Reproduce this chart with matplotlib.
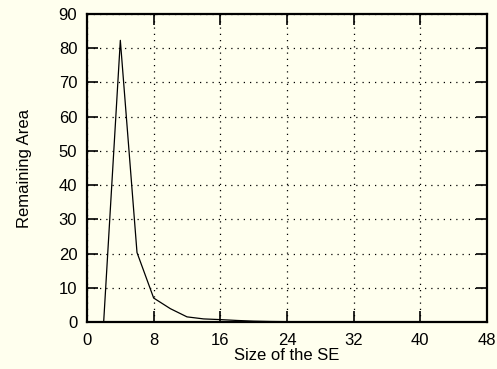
import matplotlib
matplotlib.use("Agg")
import matplotlib.pyplot as plt

# size of the structuring element vs remaining area
se_size = [2, 4, 6, 8, 10, 12, 14, 16, 18, 20, 22, 24, 26, 28, 30]
remaining_area = [0, 82.3, 20.3, 7.0, 3.9, 1.5, 0.9, 0.7, 0.45, 0.25, 0.15, 0.1, 0.05, 0.02, 0]

x_ticks = [0, 8, 16, 24, 32, 40, 48]
y_ticks = [0, 10, 20, 30, 40, 50, 60, 70, 80, 90]

plt.rcParams['font.family'] = ['Liberation Sans', 'DejaVu Sans']
plt.rcParams['font.size'] = 12

bg = '#ffffee'
fig = plt.figure(figsize=(4.97, 3.69), dpi=100, facecolor=bg)
ax = fig.add_axes([87 / 497, 47 / 369, 400 / 497, 308 / 369], facecolor=bg)

ax.plot(se_size, remaining_area, color='black', linewidth=0.9)

ax.set_xlim(0, 48)
ax.set_ylim(0, 90)
ax.set_xticks(x_ticks)
ax.set_yticks(y_ticks)
ax.grid(True, color='black', linestyle=(0, (1, 4)), linewidth=0.9)
ax.tick_params(direction='in', length=8, width=1.2, top=True, right=True, pad=7,
               labelsize=12)
ax.tick_params(axis='x', pad=8)
for sp in ax.spines.values():
    sp.set_linewidth(1.6)

ax.set_xlabel('Size of the SE', labelpad=0)
ax.set_ylabel('Remaining Area', labelpad=19)

fig.savefig('out.png', dpi=100, facecolor=bg)
